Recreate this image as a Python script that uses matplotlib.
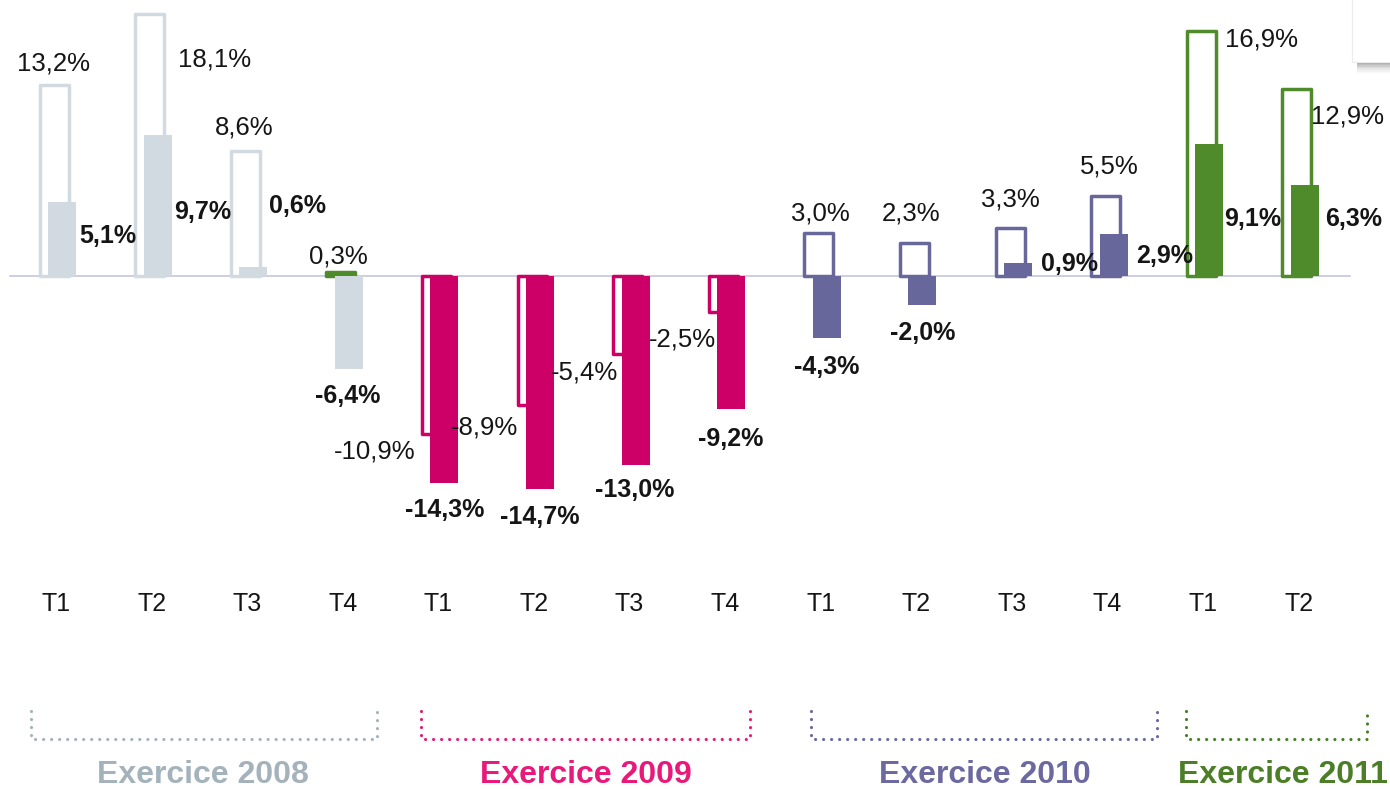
import matplotlib
matplotlib.use('Agg')
import matplotlib.pyplot as plt
from matplotlib.patches import Rectangle

plt.rcParams['font.family'] = ['Liberation Sans', 'DejaVu Sans']

# ---------------- data ----------------
quarters = ['T1', 'T2', 'T3', 'T4', 'T1', 'T2', 'T3', 'T4',
            'T1', 'T2', 'T3', 'T4', 'T1', 'T2']
exercises = ['Exercice 2008', 'Exercice 2009', 'Exercice 2010', 'Exercice 2011']
exercise_of_quarter = [0, 0, 0, 0, 1, 1, 1, 1, 2, 2, 2, 2, 3, 3]
outline_values = [13.2, 18.1, 8.6, 0.3, -10.9, -8.9, -5.4, -2.5,
                  3.0, 2.3, 3.3, 5.5, 16.9, 12.9]
filled_values = [5.1, 9.7, 0.6, -6.4, -14.3, -14.7, -13.0, -9.2,
                 -4.3, -2.0, 0.9, 2.9, 9.1, 6.3]

# ---------------- style / layout ----------------
bar_colors = ['#d1d9e1', '#cc0066', '#67679b', '#4f8a2b']
label_colors = ['#a4b2bc', '#e8197a', '#6b69a0', '#4b7e27']
outline_face_special = {3: '#4f8a2b'}   # 2008 T4 outline drawn green/filled
outline_edge_special = {3: '#4f8a2b'}

W, H = 1390, 789
PX_PER_CAT = 95.6
X0_PX = 56.0
ZERO_PX = 276.0
PX_PER_PCT = 14.5


def px2x(px):
    return (px - X0_PX) / PX_PER_CAT


def px2y(py):
    return (ZERO_PX - py) / PX_PER_PCT


# label offsets in pixels (dx, dy up-positive) from the bar end
outline_offsets = [(-1, 21), (64.5, -45.5), (-1, 24), (-2, 15.6),
                   (-61.4, -17), (-47, -22), (-43.6, -18), (-41, -27),
                   (2, 19.5), (-3, 29.6), (0, 29), (4, 30),
                   (60, -9), (50.7, -28)]
filled_offsets = [(46, -34), (45.4, -77), (44, 61), (-1, -27),
                  (0.6, -26.6), (-0.5, -28), (-1, -25.5), (-1, -29.6),
                  (0, -28.6), (0, -28), (52, -1), (51, -22),
                  (43, -75), (49, -34)]

exercise_label_px = [203, 586, 985, 1283]
bracket_px = [(31, 377), (421, 750), (811, 1157), (1186, 1367)]


def fmt(v):
    return f"{v:.1f}%".replace('.', ',')


fig = plt.figure(figsize=(W / 100, H / 100), dpi=100)
ax = fig.add_axes([0, 0, 1, 1])
ax.set_xlim(px2x(0), px2x(W))
ax.set_ylim(px2y(H), px2y(0))
ax.axis('off')

n = len(quarters)
xs = list(range(n))
out_off = -2 / PX_PER_CAT
fill_off = 6 / PX_PER_CAT
out_w = 29 / PX_PER_CAT
fill_w = 28 / PX_PER_CAT

# zero line
ax.axhline(0, xmin=10 / W, xmax=1350 / W, color='#c6c6de', lw=1.2, zorder=1)

for i in xs:
    g = exercise_of_quarter[i]
    col = bar_colors[g]
    ec = outline_edge_special.get(i, col)
    fc = outline_face_special.get(i, 'none')
    ax.bar(i + out_off, outline_values[i], width=out_w, facecolor=fc,
           edgecolor=ec, linewidth=2.5, joinstyle='round', zorder=2)
    ax.bar(i + fill_off, filled_values[i], width=fill_w, color=col,
           linewidth=0, zorder=3)

    dx, dy = outline_offsets[i]
    ax.annotate(fmt(outline_values[i]), xy=(i + out_off, outline_values[i]),
                xytext=(dx, dy), textcoords='offset pixels',
                ha='center', va='center', fontsize=18.5, color='#151515', zorder=5)
    dx, dy = filled_offsets[i]
    ax.annotate(fmt(filled_values[i]), xy=(i + fill_off, filled_values[i]),
                xytext=(dx, dy), textcoords='offset pixels',
                ha='center', va='center', fontsize=18, fontweight='bold',
                color='#151515', zorder=5)

    ax.text(i, px2y(604), quarters[i], ha='center', va='center',
            fontsize=18, color='#151515')

# brackets and exercise labels
for g, name in enumerate(exercises):
    x1, x2 = bracket_px[g]
    xsb = [px2x(x1), px2x(x1), px2x(x2), px2x(x2)]
    ysb = [px2y(711), px2y(739), px2y(739), px2y(708)]
    ax.plot(xsb, ysb, color=label_colors[g], lw=2.3,
            linestyle=(0, (0.01, 2.5)), dash_capstyle='round',
            solid_capstyle='round', clip_on=False)
    ax.text(px2x(exercise_label_px[g]), px2y(775), name, ha='center',
            va='center', fontsize=23, fontweight='bold',
            color=label_colors[g])

# small box with soft shadow at top right
shadow_alphas = [0.55, 0.45, 0.35, 0.25, 0.16, 0.09, 0.04]
for k, a in enumerate(shadow_alphas):
    y_top = 62 + 1.6 * k
    ax.add_patch(Rectangle((px2x(1357), px2y(y_top + 1.6)),
                           px2x(1400) - px2x(1357), px2y(y_top) - px2y(y_top + 1.6),
                           facecolor='#6e6e6e', alpha=a, lw=0, zorder=6))
ax.add_patch(Rectangle((px2x(1352), px2y(62)), px2x(1395) - px2x(1352),
                       px2y(-5) - px2y(62), facecolor='white',
                       edgecolor='#ececec', lw=0.8, zorder=7))

fig.savefig('out.png', dpi=100)
